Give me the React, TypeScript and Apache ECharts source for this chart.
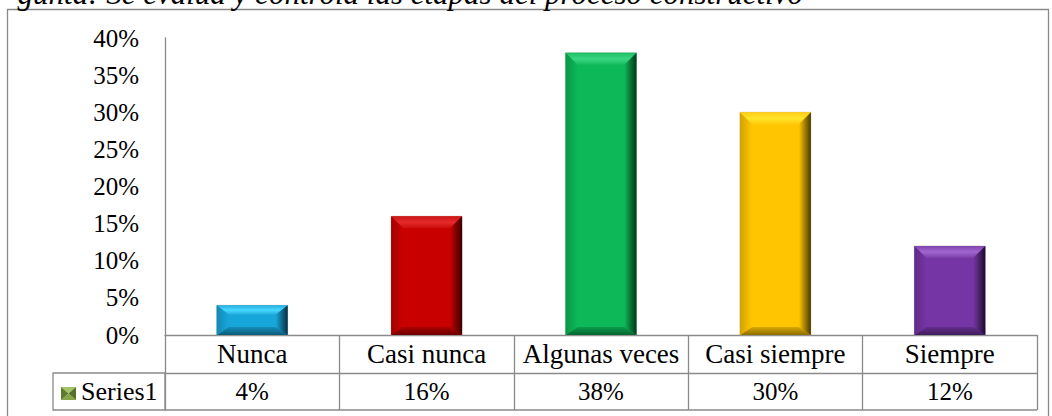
import React, { useEffect, useRef } from "react";
import * as echarts from "echarts";

const categories = ["Nunca", "Casi nunca", "Algunas veces", "Casi siempre", "Siempre"];
const values = [0.04, 0.16, 0.38, 0.3, 0.12];
const seriesName = "Series1";
const titleText = "gunta: Se evalúa y controla las etapas del proceso constructivo";
const barColors = [
  { base: "#17A6DA", light: "#45D8FF", dark: "#052F42" },
  { base: "#C80000", light: "#E42A2A", dark: "#3A0000" },
  { base: "#0CB857", light: "#3AD684", dark: "#013A19" },
  { base: "#FFC600", light: "#FFE42A", dark: "#4A3800" },
  { base: "#7535A5", light: "#A066CF", dark: "#1C0930" },
];

const W = 1052;
const H = 416;
const GRID_LEFT = 165;
const GRID_RIGHT = 15;
const GRID_TOP = 38;
const GRID_BOTTOM = 81;
const ROW = 38;
const FONT = "'Liberation Serif', 'Times New Roman', serif";
const LINE = "#8a8a8a";

function shade(hex: string, f: number): string {
  const n = parseInt(hex.slice(1), 16);
  let r = (n >> 16) & 255, g = (n >> 8) & 255, b = n & 255;
  if (f <= 1) {
    r = Math.round(r * f); g = Math.round(g * f); b = Math.round(b * f);
  } else {
    const t = f - 1;
    r = Math.round(r + (255 - r) * t); g = Math.round(g + (255 - g) * t); b = Math.round(b + (255 - b) * t);
  }
  return "rgb(" + r + "," + g + "," + b + ")";
}

export default function App() {
  const ref = useRef<HTMLDivElement>(null);
  useEffect(() => {
    if (!ref.current) return;
    const chart = echarts.init(ref.current, null, { renderer: "svg" });
    const axisY = H - GRID_BOTTOM;
    const tableRight = W - GRID_RIGHT;
    const LG = echarts.graphic.LinearGradient;

    chart.setOption({
      animation: false,
      grid: { left: GRID_LEFT, right: GRID_RIGHT, top: GRID_TOP, bottom: GRID_BOTTOM, containLabel: false },
      xAxis: [
        {
          type: "category",
          data: categories,
          position: "bottom",
          axisLine: { show: true, lineStyle: { color: LINE, width: 1.3 } },
          axisTick: { show: true, length: ROW, interval: 0, lineStyle: { color: LINE, width: 1.3 } },
          axisLabel: { interval: 0, margin: ROW / 2, verticalAlign: "middle", fontSize: 27, fontFamily: FONT, color: "#000" },
          splitLine: { show: false },
        },
        {
          type: "category",
          data: values.map((v) => Math.round(v * 100) + "%"),
          position: "bottom",
          offset: ROW,
          axisLine: { show: true, lineStyle: { color: LINE, width: 1.3 } },
          axisTick: { show: true, length: ROW - 1, interval: 0, lineStyle: { color: LINE, width: 1.3 } },
          axisLabel: { interval: 0, margin: (ROW - 1) / 2, verticalAlign: "middle", fontSize: 25, fontFamily: FONT, color: "#000" },
          splitLine: { show: false },
        },
      ],
      yAxis: {
        type: "value",
        min: 0,
        max: 0.4,
        interval: 0.05,
        axisLine: { show: true, lineStyle: { color: LINE, width: 1.3 } },
        axisTick: { show: false },
        splitLine: { show: false },
        axisLabel: {
          margin: 26,
          fontSize: 25,
          fontFamily: FONT,
          color: "#000",
          formatter: (v: number) => Math.round(v * 100) + "%",
        },
      },
      series: [
        {
          type: "custom",
          name: seriesName,
          xAxisIndex: 0,
          encode: { x: 0, y: 1 },
          data: values.map((v, i) => [i, v]),
          renderItem: (params: any, api: any) => {
            const idx = api.value(0);
            const val = api.value(1);
            const top = api.coord([idx, val]);
            const base = api.coord([idx, 0]);
            const bw = api.size([1, 0])[0] * 0.407;
            const x0 = top[0] - bw / 2, x1 = top[0] + bw / 2;
            const y0 = top[1], y1 = base[1];
            const h = y1 - y0;
            const bt = Math.min(12, h * 0.32);
            const bb = Math.min(8, h * 0.3);
            const bs = 12;
            const c = barColors[params.dataIndex % barColors.length];
            const face = c.base;
            return {
              type: "group",
              children: [
                {
                  type: "rect",
                  shape: { x: x0, y: y0, width: bw, height: h },
                  style: { fill: face, stroke: "rgba(180,180,180,0.6)", lineWidth: 0.8 },
                },
                {
                  type: "polygon",
                  shape: { points: [[x0, y0], [x1, y0], [x1 - bs, y0 + bt], [x0 + bs, y0 + bt]] },
                  style: { fill: new LG(0, 0, 0, 1, [
                    { offset: 0, color: shade(face, 1.08) },
                    { offset: 0.5, color: c.light },
                    { offset: 1, color: shade(face, 1.05) },
                  ]) },
                },
                {
                  type: "polygon",
                  shape: { points: [[x0, y1], [x1, y1], [x1 - bs, y1 - bb], [x0 + bs, y1 - bb]] },
                  style: { fill: new LG(0, 0, 0, 1, [
                    { offset: 0, color: shade(face, 0.85) },
                    { offset: 1, color: shade(face, 0.55) },
                  ]) },
                },
                {
                  type: "polygon",
                  shape: { points: [[x0, y0], [x0 + bs, y0 + bt], [x0 + bs, y1 - bb], [x0, y1]] },
                  style: { fill: new LG(0, 0, 1, 0, [
                    { offset: 0, color: shade(face, 0.82) },
                    { offset: 1, color: face },
                  ]) },
                },
                {
                  type: "polygon",
                  shape: { points: [[x1, y0], [x1 - bs, y0 + bt], [x1 - bs, y1 - bb], [x1, y1]] },
                  style: { fill: new LG(0, 0, 1, 0, [
                    { offset: 0, color: face },
                    { offset: 0.55, color: shade(face, 0.6) },
                    { offset: 1, color: c.dark },
                  ]) },
                },
              ],
            };
          },
        },
      ],
      graphic: [
        {
          type: "rect",
          z: -10,
          shape: { x: 7.5, y: 9.5, width: 1041, height: 430 },
          style: { fill: "none", stroke: LINE, lineWidth: 1.3 },
        },
        {
          type: "text",
          x: 803,
          y: 9,
          style: {
            text: titleText,
            align: "right",
            verticalAlign: "bottom",
            font: "italic 31px " + FONT,
            fill: "#000",
          },
        },
        {
          type: "rect",
          shape: { x: 53, y: axisY + ROW, width: GRID_LEFT - 53, height: ROW - 1 },
          style: { fill: "none", stroke: LINE, lineWidth: 1.3 },
        },
        {
          type: "line",
          shape: { x1: GRID_LEFT, y1: axisY + 2 * ROW - 1, x2: tableRight, y2: axisY + 2 * ROW - 1 },
          style: { stroke: LINE, lineWidth: 1.3 },
        },
        {
          type: "group",
          children: [
            { type: "polygon", shape: { points: [[61, 387], [76, 387], [68.5, 393.5]] }, style: { fill: "#A5C366" } },
            { type: "polygon", shape: { points: [[61, 400], [76, 400], [68.5, 393.5]] }, style: { fill: "#87A64A" } },
            { type: "polygon", shape: { points: [[61, 387], [61, 400], [68.5, 393.5]] }, style: { fill: "#5E7A2C" } },
            { type: "polygon", shape: { points: [[76, 387], [76, 400], [68.5, 393.5]] }, style: { fill: "#56702A" } },
          ],
        },
        {
          type: "text",
          x: 81,
          y: axisY + ROW + (ROW - 1) / 2,
          style: {
            text: seriesName,
            align: "left",
            verticalAlign: "middle",
            font: "26px " + FONT,
            fill: "#000",
          },
        },
      ],
    });
    return () => chart.dispose();
  }, []);
  return (
    <div
      ref={ref}
      style={{ position: "absolute", left: 0, top: 0, width: W, height: H, background: "#fff" }}
    />
  );
}
